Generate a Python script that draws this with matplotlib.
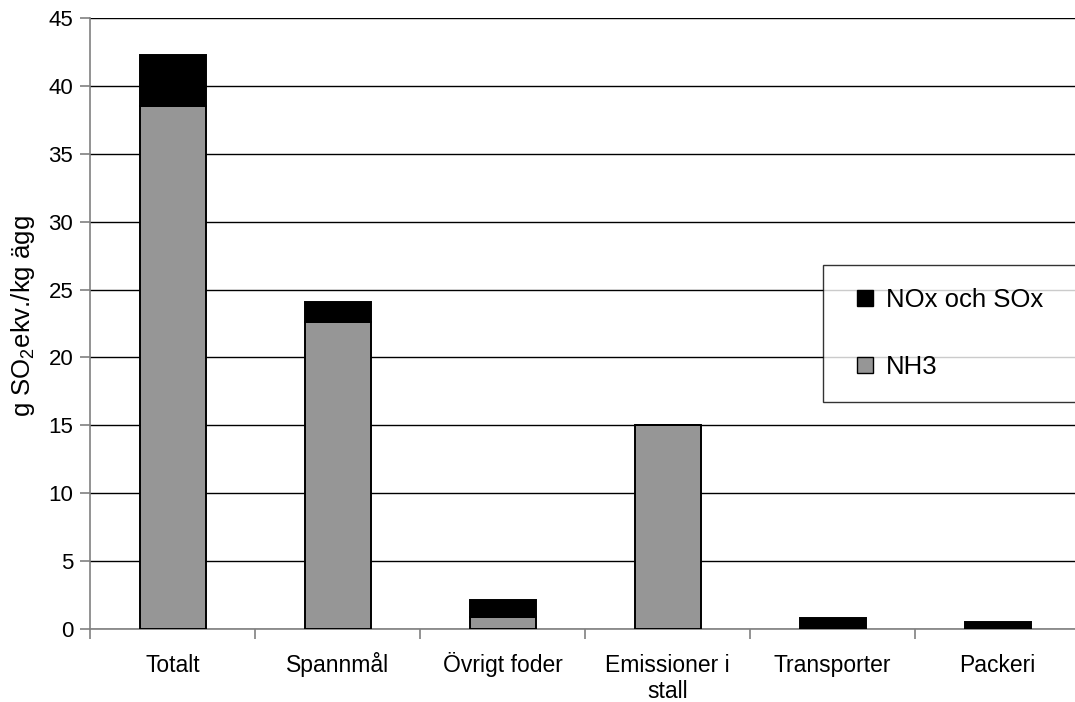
import matplotlib.pyplot as plt
from matplotlib.lines import Line2D
import matplotlib.transforms as mtransforms
import numpy as np

plt.rcParams['font.family'] = ['Liberation Sans', 'DejaVu Sans']
plt.rcParams['mathtext.fontset'] = 'custom'
plt.rcParams['mathtext.rm'] = 'Liberation Sans'

categories = ["Totalt", "Spannmål", "Övrigt foder", "Emissioner i\nstall", "Transporter", "Packeri"]
nh3 = [38.5, 22.6, 0.9, 15.0, 0.0, 0.0]
nox_sox = [3.8, 1.5, 1.2, 0.0, 0.8, 0.5]
yticks = [0, 5, 10, 15, 20, 25, 30, 35, 40, 45]

GRAY = "#969696"

fig = plt.figure(figsize=(10.75, 7.02), dpi=100)
ax = fig.add_axes([90 / 1075, 73 / 702, 990 / 1075, 611 / 702])

x = np.arange(len(categories))
ax.bar(x, nh3, width=0.4, color=GRAY, edgecolor="black", linewidth=1.4, zorder=3)
ax.bar(x, nox_sox, width=0.4, bottom=nh3, color="black", edgecolor="black",
       linewidth=1.4, zorder=3)

ax.set_xlim(-0.5, 5.5)
ax.set_ylim(0, 45)
ax.set_yticks(yticks)
ax.yaxis.grid(True, color="black", linewidth=1.0, zorder=0)
ax.set_axisbelow(True)

# boundary ticks between categories, names written line by line on a shared baseline
ax.set_xticks(np.arange(-0.5, 6.0, 1.0))
ax.set_xticklabels([])
ax.tick_params(axis="x", length=7, color="#808080", width=1.2)
ax.tick_params(axis="y", length=7, color="#808080", width=1.2, labelsize=16, pad=5)

trans = mtransforms.blended_transform_factory(ax.transData, ax.transAxes)
for xi, name in zip(x, categories):
    for k, line in enumerate(name.split("\n")):
        ax.text(xi, (-43 - 26 * k) / 611, line, transform=trans, ha="center",
                va="baseline", fontsize=16.5)

for side in ("top", "right"):
    ax.spines[side].set_visible(False)
for side in ("left", "bottom"):
    ax.spines[side].set_color("#808080")
    ax.spines[side].set_linewidth(1.2)

fig.text(23 / 1075, 1 - 316 / 702, r"g SO$_\mathregular{2}$ekv./kg ägg", rotation=90,
         ha="center", va="center", fontsize=18.5)

handles = [
    Line2D([], [], marker="s", linestyle="none", markersize=12,
           markerfacecolor="black", markeredgecolor="black"),
    Line2D([], [], marker="s", linestyle="none", markersize=12,
           markerfacecolor=GRAY, markeredgecolor="black"),
]
leg = fig.legend(handles, ["NOx och SOx", "NH3"], loc="upper left",
                 bbox_to_anchor=(823 / 1075, 1 - 403 / 702, 280 / 1075, 138 / 702),
                 bbox_transform=fig.transFigure, mode="expand", fontsize=18.5,
                 frameon=True, fancybox=False, borderpad=0.9, labelspacing=1.65,
                 handlelength=1.5, handletextpad=0.05, borderaxespad=0)
leg.get_frame().set_edgecolor("black")
leg.get_frame().set_linewidth(1.0)

fig.savefig("out.png", dpi=100)
